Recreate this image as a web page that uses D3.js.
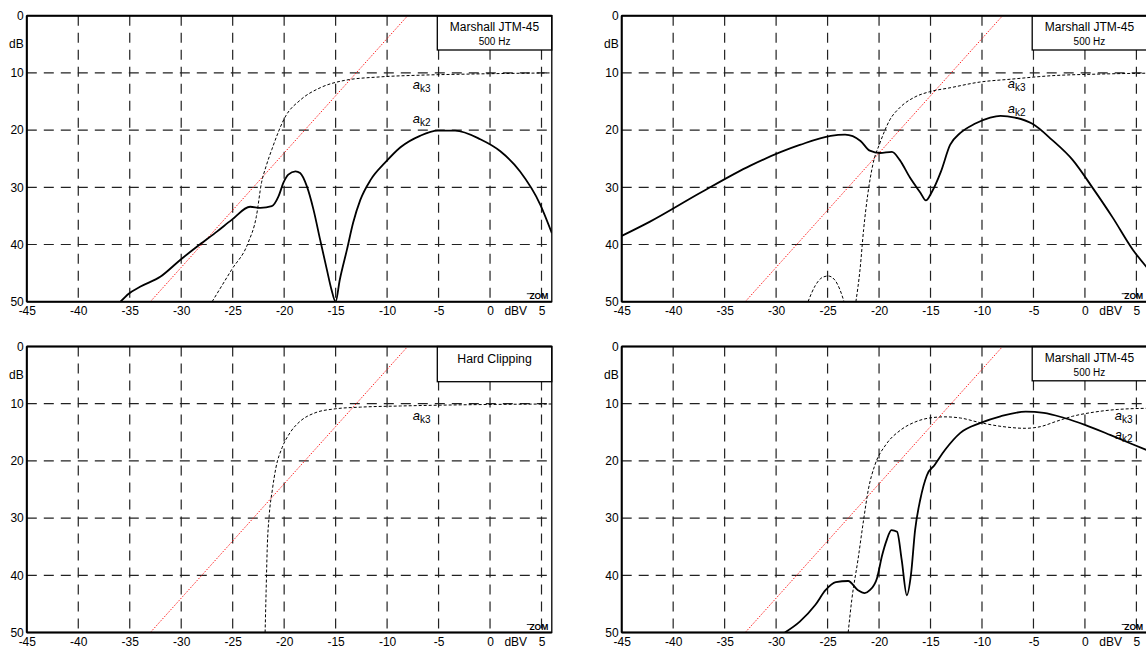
<!DOCTYPE html>
<html><head><meta charset="utf-8">
<script src="https://cdn.jsdelivr.net/npm/d3@7"></script>
<style>
html,body{margin:0;padding:0;background:#fff;}
svg{display:block;font-family:"Liberation Sans",Arial,sans-serif;}
</style></head>
<body><svg id="c" width="1146" height="648"></svg>
<script>
const xTickVals = [-45,-40,-35,-30,-25,-20,-15,-10,-5,0,5];
const yTickVals = [0,10,20,30,40,50];
const xGridVals = [-40,-35,-30,-25,-20,-15,-10,-5,0,5];
const yGridVals = [10,20,30,40];
const xUnitLabel = "dBV";
const yUnitLabel = "dB";
const redAsymptote = [[-33,50],[-8,0]];

const tlK2 = [[-35.9,50],[-35.1,48.6],[-34.0,47.4],[-32.0,45.6],[-30.1,42.7],[-28.2,40.0],[-26.5,37.7],[-25.1,35.7],[-23.3,33.4],[-22.3,33.6],[-21.2,33.3],[-20.55,31.6],[-20.07,29.2],[-19.6,27.8],[-18.9,27.2],[-18.45,27.5],[-17.8,29.8],[-17.15,33.9],[-16.5,39.2],[-15.85,44.4],[-15.4,47.9],[-15.0,50],[-14.6,46.2],[-13.9,40.9],[-13.3,36.2],[-12.6,32.2],[-11.6,28.7],[-10.2,25.7],[-8.7,23.0],[-6.8,21.0],[-5.1,20.1],[-3.4,20.1],[-0.95,21.6],[1.0,23.7],[2.9,27.2],[4.9,33.1],[6,38]];
const tlK3 = [[-27.0,50],[-25.1,44.4],[-23.5,39.7],[-22.7,35.1],[-22.2,29.2],[-21.75,26.3],[-21.2,23.4],[-19.9,17.7],[-18.4,14.7],[-16.5,12.6],[-14.1,11.3],[-10.7,10.7],[-6.8,10.4],[-1.9,10.2],[6,10.0]];

const trK2 = [[-45,38.5],[-42.25,36.0],[-37.4,31.0],[-32.5,26.2],[-27.7,22.6],[-24.7,21.0],[-23.3,20.8],[-21.8,21.9],[-20.9,23.6],[-19.9,24.0],[-18.75,23.8],[-18.0,25.2],[-17.0,28.3],[-16.0,30.9],[-15.45,32.3],[-14.9,30.9],[-14.0,27.3],[-13.1,22.6],[-12.1,20.5],[-10.7,18.9],[-9.2,17.8],[-8.2,17.5],[-6.8,17.8],[-5.1,18.9],[-3.2,21.7],[-1.2,25.2],[0.75,30.1],[2.7,35.3],[4.65,40.9],[6.2,44.4]];
const trK3Hump = [[-26.9,50],[-26.2,47.2],[-25.55,45.8],[-24.95,45.5],[-24.3,46.2],[-23.8,47.9],[-23.4,50]];
const trK3 = [[-22.25,50],[-21.85,44.4],[-21.5,37.4],[-21.1,31.3],[-20.6,26.0],[-19.9,22.2],[-18.95,18.2],[-18.0,16.1],[-16.5,14.2],[-15.1,13.3],[-13.1,12.6],[-10.2,11.6],[-7.2,11.1],[-3.3,10.5],[1.55,10.2],[6,10.05]];

const blK3 = [[-21.85,50],[-21.75,42.6],[-21.65,35.6],[-21.45,29.5],[-21.15,25.1],[-20.8,21.2],[-20.2,17.7],[-19.4,15.0],[-18.4,13.0],[-17.0,11.6],[-15.05,10.9],[-12.6,10.6],[-8.7,10.4],[-2.9,10.2],[6,10.05]];

const brK2 = [[-29.15,50],[-27.7,48.1],[-26.2,45.2],[-25.2,42.6],[-24.2,41.2],[-23.0,41.0],[-22.05,42.6],[-21.4,43.1],[-20.9,42.6],[-20.2,40.5],[-19.7,36.5],[-19.25,33.8],[-18.8,32.1],[-18.25,32.4],[-17.8,37.3],[-17.3,43.5],[-16.9,39.9],[-16.5,32.1],[-16.0,26.8],[-15.35,22.5],[-14.6,20.7],[-13.6,18.1],[-12.1,15.1],[-10.2,13.4],[-8.2,12.2],[-5.75,11.4],[-4.0,11.6],[-2.0,12.5],[0,13.7],[2.5,15.5],[4.5,17.0],[6,18.1]];
const brK3 = [[-23.0,50],[-22.65,44.3],[-22.05,37.3],[-21.5,30.3],[-21.05,25.1],[-20.4,20.7],[-19.35,17.2],[-17.9,14.6],[-16.5,13.2],[-15.1,12.5],[-13.6,12.3],[-12.1,12.5],[-10.2,13.3],[-8.0,14.0],[-5.8,14.3],[-4.3,14.0],[-2.8,13.1],[-1.2,12.2],[0.8,11.5],[3.2,11.0],[6.2,10.8]];

const panels = [
  {ox:26.8, oy:15.7, title:["Marshall JTM-45","500 Hz"], k2:[tlK2], k3:[tlK3], labels:[{t:"k3",x:-7.5,y:12.8},{t:"k2",x:-7.5,y:18.7}]},
  {ox:621.7, oy:15.7, title:["Marshall JTM-45","500 Hz"], k2:[trK2], k3:[trK3Hump,trK3], labels:[{t:"k3",x:-7.5,y:12.7},{t:"k2",x:-7.5,y:17.1}]},
  {ox:26.8, oy:346.5, title:["Hard Clipping"], k2:[], k3:[blK3], labels:[{t:"k3",x:-7.5,y:12.85}]},
  {ox:621.7, oy:346.5, title:["Marshall JTM-45","500 Hz"], k2:[brK2], k3:[brK3], labels:[{t:"k3",x:2.9,y:12.85},{t:"k2",x:2.9,y:16.2}]}
];

const W = 525, H = 286;
const svg = d3.select("#c");
const x = d3.scaleLinear().domain([-45,6]).range([0,W]);
const y = d3.scaleLinear().domain([0,50]).range([0,H]);
const line = d3.line().x(d=>x(d[0])).y(d=>y(d[1])).curve(d3.curveMonotoneX);
const straight = d3.line().x(d=>x(d[0])).y(d=>y(d[1]));
const fmt = d => String(d);

panels.forEach((p,i)=>{
  const g = svg.append("g").attr("transform",`translate(${p.ox},${p.oy})`);
  g.append("clipPath").attr("id","clip"+i).append("rect").attr("width",W).attr("height",H);
  g.selectAll(".vg").data(xGridVals).join("line")
    .attr("x1",d=>x(d)).attr("x2",d=>x(d)).attr("y1",0).attr("y2",H)
    .attr("stroke","#222").attr("stroke-width",1.2).attr("stroke-dasharray","10,7");
  g.selectAll(".hg").data(yGridVals).join("line")
    .attr("x1",0).attr("x2",W).attr("y1",d=>y(d)).attr("y2",d=>y(d))
    .attr("stroke","#222").attr("stroke-width",1.2).attr("stroke-dasharray","10,7");
  const cg = g.append("g").attr("clip-path",`url(#clip${i})`);
  cg.append("path").attr("d",straight(redAsymptote)).attr("fill","none")
    .attr("stroke","#ff2020").attr("stroke-width",1).attr("stroke-dasharray","1.5,1.5");
  p.k3.forEach(s=>cg.append("path").attr("d",line(s)).attr("fill","none")
    .attr("stroke","#000").attr("stroke-width",1).attr("stroke-dasharray","3,2"));
  p.k2.forEach(s=>cg.append("path").attr("d",line(s)).attr("fill","none")
    .attr("stroke","#000").attr("stroke-width",1.8));
  p.labels.forEach(l=>{
    const t = g.append("text").attr("x",x(l.x)).attr("y",y(l.y)).attr("fill","#000");
    t.append("tspan").attr("font-style","italic").attr("font-size",13).text("a");
    t.append("tspan").attr("font-size",10).attr("dy",3).text(l.t);
  });
  const bh = p.title.length>1 ? 34.3 : 35.2;
  g.append("rect").attr("x",410.5).attr("y",0).attr("width",W-410.5).attr("height",bh)
    .attr("fill","#fff").attr("stroke","#000").attr("stroke-width",1.3);
  const cx = (410.5+W)/2;
  if(p.title.length>1){
    g.append("text").attr("x",cx).attr("y",15.8).attr("text-anchor","middle").attr("font-size",12).text(p.title[0]);
    g.append("text").attr("x",cx).attr("y",29.3).attr("text-anchor","middle").attr("font-size",10).text(p.title[1]);
  } else {
    g.append("text").attr("x",cx).attr("y",16.2).attr("text-anchor","middle").attr("font-size",12.3).text(p.title[0]);
  }
  g.append("rect").attr("width",W).attr("height",H).attr("fill","none").attr("stroke","#000").attr("stroke-width",1.3);
  g.append("line").attr("x1",0).attr("x2",W).attr("y1",0).attr("y2",0).attr("stroke","#000").attr("stroke-width",2);
  g.append("line").attr("x1",0).attr("x2",0).attr("y1",0).attr("y2",H).attr("stroke","#000").attr("stroke-width",2);
  g.append("line").attr("x1",0).attr("x2",W).attr("y1",H).attr("y2",H).attr("stroke","#000").attr("stroke-width",2);
  const ax = g.append("g").attr("transform",`translate(0,${H})`)
    .call(d3.axisBottom(x).tickValues(xTickVals).tickSize(0).tickPadding(5).tickFormat(fmt));
  const ay = g.append("g")
    .call(d3.axisLeft(y).tickValues(yTickVals).tickSize(0).tickPadding(3).tickFormat(fmt));
  [ax,ay].forEach(a=>{a.select(".domain").remove(); a.selectAll("text").attr("font-size",12).attr("fill","#000").attr("font-family","Liberation Sans, Arial, sans-serif");});
  g.append("text").attr("x",x(2.5)).attr("y",H+5).attr("dy","0.71em").attr("text-anchor","middle").attr("font-size",12).text(xUnitLabel);
  g.append("text").attr("x",-3).attr("y",y(5)).attr("dy","0.32em").attr("text-anchor","end").attr("font-size",12).text(yUnitLabel);
  g.append("text").attr("x",W-3.5).attr("y",H-2.5).attr("text-anchor","end").attr("font-size",8.5).attr("font-weight","bold").text("ZOM");
  g.append("line").attr("x1",W-25).attr("x2",W-18).attr("y1",H-8).attr("y2",H-8).attr("stroke","#000").attr("stroke-width",0.8);
});
</script></body></html>
